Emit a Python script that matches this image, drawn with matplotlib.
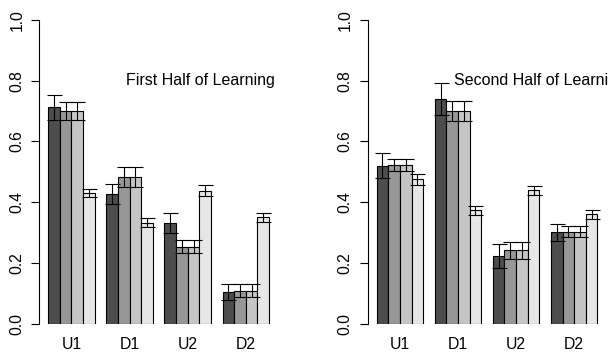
import matplotlib
matplotlib.use("Agg")
import matplotlib.pyplot as plt
import numpy as np

plt.rcParams['font.family'] = ['Liberation Sans', 'DejaVu Sans']

groups = ["U1", "D1", "U2", "D2"]
bar_colors = ["#4D4D4D", "#979797", "#C5C5C5", "#E6E6E6"]

# proportions per condition (rows = groups, cols = the four bars in a group)
first_means = [[0.713, 0.700, 0.700, 0.431],
               [0.427, 0.483, 0.483, 0.333],
               [0.331, 0.254, 0.254, 0.438],
               [0.105, 0.109, 0.109, 0.350]]
first_err = [[0.041, 0.030, 0.030, 0.013],
             [0.033, 0.032, 0.032, 0.014],
             [0.032, 0.020, 0.020, 0.018],
             [0.027, 0.021, 0.021, 0.015]]

second_means = [[0.520, 0.523, 0.523, 0.476],
                [0.740, 0.701, 0.701, 0.373],
                [0.223, 0.242, 0.242, 0.440],
                [0.301, 0.303, 0.303, 0.360]]
second_err = [[0.041, 0.020, 0.020, 0.018],
              [0.054, 0.032, 0.032, 0.016],
              [0.040, 0.028, 0.028, 0.015],
              [0.028, 0.018, 0.018, 0.014]]

W, H = 608, 355
fig = plt.figure(figsize=(W / 100, H / 100), dpi=100)


def panel(left_px, means, errs, label):
    ax = fig.add_axes([left_px / W, 31.3 / H, 238.5 / W, 303.7 / H])
    means = np.array(means)
    errs = np.array(errs)
    # barplot layout: one empty slot before each group of four bars
    for g in range(len(groups)):
        x = 1 + g * 5 + np.arange(4) + 0.5
        ax.bar(x, means[g], width=1.0, color=bar_colors, edgecolor="black",
               linewidth=0.8, zorder=2)
        ax.errorbar(x, means[g], yerr=errs[g], fmt="none", ecolor="black",
                    elinewidth=0.8, capsize=5.4, capthick=0.8, zorder=3)
    ax.set_xlim(0.24, 20.76)
    ax.set_ylim(0, 1)
    ax.set_xticks([1 + g * 5 + 2 for g in range(len(groups))])
    ax.set_xticklabels(groups, fontsize=11.3)
    ax.tick_params(axis="x", length=0, pad=9.5)
    yt = [0.0, 0.2, 0.4, 0.6, 0.8, 1.0]
    ax.set_yticks(yt)
    ax.set_yticklabels(["%.1f" % v for v in yt], rotation=90, va="center",
                       fontsize=11.3)
    ax.tick_params(axis="y", length=5.8, width=0.8, pad=5)
    for s in ["top", "right", "bottom"]:
        ax.spines[s].set_visible(False)
    ax.spines["left"].set_linewidth(0.8)
    ax.patch.set_visible(False)
    # label starts just right of the second group and may run past the edge
    ax.text(7.68, 0.8, label, ha="left", va="center", fontsize=11.5,
            clip_on=False)
    return ax


panel(39.4, first_means, first_err, "First Half of Learning")
panel(367.8, second_means, second_err, "Second Half of Learning")

fig.savefig("out.png", dpi=100)
